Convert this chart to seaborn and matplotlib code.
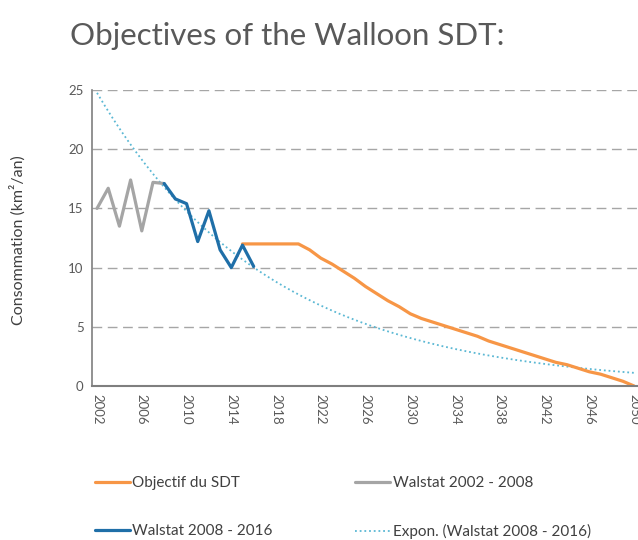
import matplotlib
matplotlib.use("Agg")
import matplotlib.pyplot as plt
import numpy as np
import seaborn as sns

# Walstat observations (km²/an)
years_2002_2008 = list(range(2002, 2009))
walstat_2002_2008 = [15.0, 16.7, 13.5, 17.4, 13.1, 17.2, 17.1]

years_2008_2016 = list(range(2008, 2017))
walstat_2008_2016 = [17.1, 15.8, 15.4, 12.2, 14.8, 11.5, 10.0, 11.9, 10.1]

# SDT objective trajectory
years_objectif = list(range(2015, 2051))
objectif_sdt = [12.0, 12.0, 12.0, 12.0, 12.0, 12.0, 11.5, 10.8, 10.3, 9.7,
                9.1, 8.4, 7.8, 7.2, 6.7, 6.1, 5.7, 5.4, 5.1, 4.8,
                4.5, 4.2, 3.8, 3.5, 3.2, 2.9, 2.6, 2.3, 2.0, 1.8,
                1.5, 1.2, 1.0, 0.7, 0.4, 0.0]

tick_years = list(range(2002, 2051, 4))
y_ticks = [0, 5, 10, 15, 20, 25]

sns.set_theme(style="white")
plt.rcParams['font.family'] = ['Lato', 'DejaVu Sans']

c_orange = '#F79646'
c_gray = '#A5A5A5'
c_blue = '#1F6FA8'
c_trend = '#5BB8D4'
c_text = '#595959'

fig = plt.figure(figsize=(6.38, 5.4), dpi=100)
ax = fig.add_axes([92 / 638, 1 - 386 / 540, 1 - 92 / 638, (386 - 90) / 540])

# exponential trendline fitted on the 2008-2016 series (as Excel does)
slope, intercept = np.polyfit(years_2008_2016, np.log(walstat_2008_2016), 1)
trend_x = np.linspace(2002, 2050, 200)
trend_y = np.exp(intercept + slope * trend_x)

sns.lineplot(x=trend_x, y=trend_y, ax=ax, color=c_trend, linewidth=1.3,
             linestyle=(0, (1, 1.6)), label='Expon. (Walstat 2008 - 2016)')
sns.lineplot(x=years_objectif, y=objectif_sdt, ax=ax, color=c_orange,
             linewidth=2.3, label='Objectif du SDT')
sns.lineplot(x=years_2002_2008, y=walstat_2002_2008, ax=ax, color=c_gray,
             linewidth=2.3, label='Walstat 2002 - 2008')
sns.lineplot(x=years_2008_2016, y=walstat_2008_2016, ax=ax, color=c_blue,
             linewidth=2.3, label='Walstat 2008 - 2016')

ax.set_xlim(2001.55, 2050.35)
ax.set_ylim(0, 25)
ax.set_xticks(tick_years)
ax.set_xticklabels([str(y) for y in tick_years], rotation=-90)
ax.set_yticks(y_ticks)
ax.tick_params(axis='both', length=0, labelsize=9.5, colors=c_text, pad=6)
ax.set_xlabel('')
ax.set_ylabel('')

for v in y_ticks[1:]:
    ax.axhline(v, color='#A6A6A6', linewidth=1.0, linestyle=(0, (7, 4)), zorder=0)

for side in ['top', 'right']:
    ax.spines[side].set_visible(False)
ax.spines['left'].set_color('#7F7F7F')
ax.spines['left'].set_linewidth(1.2)
ax.spines['bottom'].set_color('#7F7F7F')
ax.spines['bottom'].set_linewidth(1.5)

fig.text(70 / 638, 1 - 36 / 540, 'Objectives of the Walloon SDT:', fontsize=22.5,
         color=c_text, va='center', ha='left')
fig.text(18 / 638, 1 - 240 / 540, 'Consommation (km²/an)', fontsize=11.5,
         color='#404040', rotation=90, va='center', ha='center')

handles, labels = ax.get_legend_handles_labels()
ax.get_legend().remove()
order = ['Objectif du SDT', 'Walstat 2008 - 2016',
         'Walstat 2002 - 2008', 'Expon. (Walstat 2008 - 2016)']
hmap = dict(zip(labels, handles))
leg = fig.legend([hmap[k] for k in order], order, loc='upper left',
                 bbox_to_anchor=(95 / 638, 1 - 476 / 540), ncol=2,
                 frameon=False, fontsize=11, handlelength=2.3,
                 handletextpad=0.15, labelspacing=2.25, columnspacing=5.4,
                 borderpad=0, borderaxespad=0)
for t in leg.get_texts():
    t.set_color('#404040')

fig.savefig('out.png', dpi=100)
